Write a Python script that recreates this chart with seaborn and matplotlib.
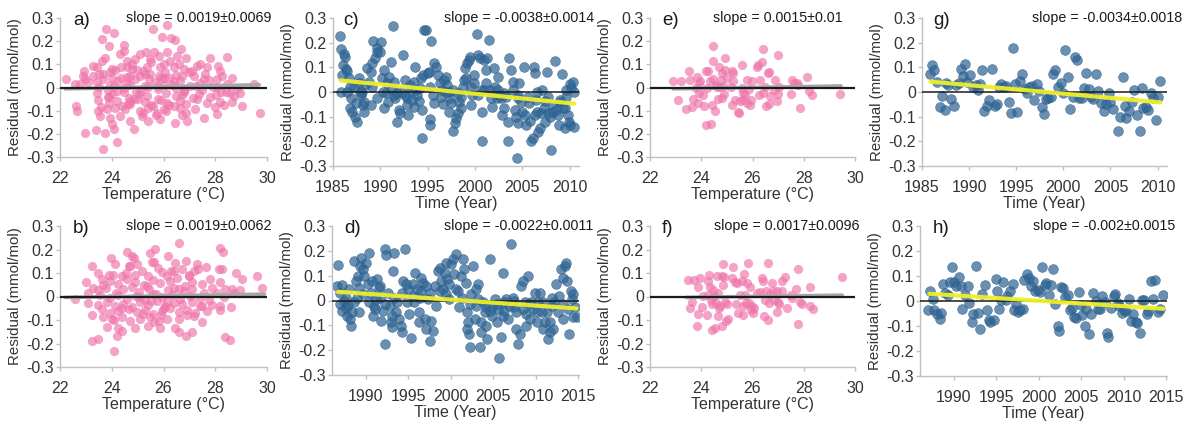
import matplotlib
matplotlib.use("Agg")
import matplotlib.pyplot as plt
import seaborn as sns
import pandas as pd

sns.set_theme(style="white")
plt.rcParams['font.family'] = ['Liberation Sans', 'DejaVu Sans']
plt.rcParams['axes.unicode_minus'] = False

# ---------------- data (temperature, residual) ----------------
a_pts = [(23.78,0.253),(24.10,0.235),(23.61,0.209),(23.91,0.177),(24.48,0.185),(24.49,0.156),(24.30,0.144),
 (25.61,0.253),(26.15,0.271),(25.94,0.216),(26.30,0.214),(26.45,0.205),(26.68,0.166),(26.13,0.152),(25.65,0.152),
 (25.32,0.152),(25.10,0.144),(25.81,0.137),(26.52,0.137),(26.88,0.126),(26.58,0.101),(26.26,0.113),(27.78,0.126),
 (28.45,0.130),(28.10,0.094),(27.42,0.101),(27.29,0.094),(25.46,0.123),(24.90,0.123),(24.58,0.115),(23.74,0.126),
 (23.61,0.115),(23.29,0.094),(23.42,0.087),(22.93,0.072),(22.88,0.051),(22.22,0.036),(22.58,0.014),(23.29,0.051),
 (23.65,0.058),(23.94,0.065),(24.13,0.075),(24.35,0.087),(24.58,0.089),(24.77,0.079),(24.97,0.075),(25.20,0.072),
 (25.38,0.087),(25.87,0.087),(26.00,0.101),(26.39,0.087),(26.80,0.079),(26.97,0.065),(27.68,0.087),(28.17,0.072),
 (28.28,0.051),(28.65,0.043),(28.06,0.036),(27.55,0.036),(27.16,0.051),(26.71,0.051),(26.23,0.043),(25.81,0.051),
 (25.48,0.058),(25.10,0.051),(24.71,0.051),(24.35,0.043),(24.00,0.043),(23.68,0.036),(23.42,0.022),(23.10,0.022),
 (22.77,0.014),(22.97,0.036),
 (23.94,0.010),(24.26,0.030),(24.58,0.018),(24.90,0.035),(25.29,0.008),(25.68,0.025),(26.00,0.040),(26.32,0.012),
 (26.65,0.028),(27.03,0.005),(27.42,0.020),(27.74,0.033),(28.06,0.002),(28.45,0.015),(28.84,-0.005),(29.48,0.017),
 (23.50,0.004),(23.86,-0.012),(24.10,0.006),(24.49,-0.003),(24.72,0.010),(25.14,-0.015),(25.40,0.002),(25.78,-0.008),
 (26.02,0.012),(26.49,-0.004),(26.80,-0.014),(27.27,0.005),(27.50,-0.010),(27.92,0.003),(28.22,-0.018),(28.58,-0.025),
 (23.42,-0.025),(23.85,-0.042),(24.02,-0.030),(24.49,-0.020),(24.67,-0.045),(25.07,-0.028),(25.38,-0.035),(25.79,-0.048),
 (26.10,-0.022),(26.49,-0.038),(26.73,-0.031),(27.14,-0.044),(27.38,-0.026),(27.78,-0.040),(28.02,-0.033),(28.43,-0.021),
 (28.73,-0.037),(28.97,-0.024),
 (23.48,-0.052),(23.90,-0.066),(24.22,-0.058),(24.62,-0.070),(24.86,-0.050),(25.27,-0.063),(25.51,-0.075),(25.91,-0.055),
 (26.15,-0.068),(26.62,-0.060),(26.86,-0.072),(27.68,-0.069),(28.17,-0.064),(28.35,-0.074),(28.65,-0.062),(29.03,-0.079),
 (22.62,-0.079),(22.65,-0.101),(23.48,-0.101),(23.81,-0.094),(24.13,-0.087),(24.52,-0.094),(24.71,-0.072),(25.10,-0.101),
 (25.42,-0.087),(25.74,-0.108),(26.00,-0.094),(26.39,-0.079),(26.65,-0.087),(26.88,-0.108),(27.23,-0.094),(27.55,-0.130),
 (28.06,-0.115),(23.55,-0.123),(23.94,-0.130),(24.32,-0.123),(24.71,-0.144),(25.16,-0.123),(25.42,-0.144),(25.87,-0.137),
 (26.45,-0.152),(26.90,-0.144),(29.74,-0.111),(24.00,-0.159),(22.97,-0.195),(23.39,-0.185),(23.72,-0.195),(24.10,-0.180),
 (24.86,-0.180),(23.68,-0.264),(24.22,-0.235),
 (24.20,-0.015),(24.60,0.045),(25.00,-0.048),(25.30,0.060),(25.60,-0.080),(25.90,0.040),(26.20,-0.075),(26.50,0.055),
 (26.80,-0.020),(27.10,0.070),(24.40,-0.080),(24.80,0.100),(25.50,0.110),(25.70,-0.120),(26.10,-0.100),(26.40,0.030),
 (23.90,-0.040),(24.00,0.080),(25.20,-0.110),(26.70,-0.120),(25.80,0.005),(24.70,-0.060),(23.60,-0.085),(23.50,0.060),
 (27.30,-0.050),(27.60,0.060),(28.00,-0.085),(25.45,0.035),(24.95,-0.020),(26.05,0.065)]

b_pts = [(26.58,0.227),(28.17,0.206),(28.30,0.191),(25.68,0.204),(25.46,0.187),(24.77,0.173),(24.58,0.190),(23.96,0.162),
 (24.13,0.138),(24.86,0.163),(24.97,0.138),(25.55,0.148),(25.64,0.145),(26.19,0.173),(26.45,0.142),(26.88,0.152),
 (27.29,0.138),(27.64,0.126),(27.35,0.116),(28.13,0.118),(28.28,0.118),(28.81,0.099),(29.03,0.074),(29.61,0.088),
 (29.81,0.038),(23.23,0.130),(23.45,0.099),(23.64,0.074),(24.06,0.091),(24.39,0.088),(24.65,0.130),(25.16,0.109),
 (25.42,0.088),(25.94,0.105),(26.15,0.088),(26.39,0.109),(26.71,0.116),(26.97,0.088),(27.16,0.109),(27.81,0.074),
 (28.19,0.060),(28.39,0.031),(28.65,0.031),(28.97,0.028),
 (23.01,0.062),(23.29,0.038),(23.68,0.050),(23.94,0.068),(24.26,0.055),(24.58,0.075),(24.90,0.060),(25.23,0.048),
 (25.61,0.072),(25.87,0.057),(26.26,0.066),(26.52,0.080),(26.84,0.046),(27.10,0.063),(27.48,0.055),(27.87,0.038),
 (28.06,0.017),
 (23.10,0.017),(23.45,0.028),(23.78,0.035),(24.16,0.015),(24.42,0.030),(24.80,0.040),(25.06,0.020),(25.45,0.033),
 (25.70,0.012),(26.16,0.027),(26.42,0.038),(26.80,0.022),(27.12,0.030),(27.58,0.014),(28.71,0.017),
 (22.58,-0.009),(23.55,0.005),(23.94,-0.006),(24.26,0.008),(24.58,-0.012),(24.94,0.003),(25.29,-0.015),(25.61,0.010),
 (25.94,-0.004),(26.32,0.006),(26.65,-0.011),(27.03,0.002),(27.42,-0.007),(27.74,-0.013),(28.32,-0.004),
 (23.10,-0.026),(23.48,-0.038),(23.81,-0.022),(24.13,-0.040),(24.45,-0.030),(24.77,-0.045),(25.10,-0.025),(25.42,-0.036),
 (25.74,-0.020),(26.06,-0.042),(26.39,-0.029),(26.71,-0.034),(27.10,-0.024),(27.48,-0.039),(27.87,-0.037),(28.19,-0.040),
 (28.61,-0.043),
 (23.23,-0.079),(23.61,-0.055),(23.94,-0.070),(24.26,-0.062),(24.65,-0.052),(24.97,-0.068),(25.29,-0.058),(25.61,-0.074),
 (25.94,-0.060),(26.26,-0.050),(26.58,-0.066),(26.90,-0.057),(27.23,-0.071),(27.68,-0.061),(28.19,-0.057),
 (23.68,-0.089),(24.00,-0.096),(24.39,-0.089),(24.71,-0.104),(25.10,-0.096),(25.48,-0.089),(25.81,-0.104),(26.13,-0.096),
 (26.58,-0.094),(27.16,-0.082),(27.48,-0.108),(23.81,-0.128),(24.26,-0.136),(24.39,-0.146),(24.90,-0.136),(25.42,-0.125),
 (25.87,-0.136),(26.45,-0.136),(27.10,-0.153),(26.88,-0.170),(26.58,-0.153),(24.19,-0.167),(23.45,-0.182),(23.25,-0.189),
 (28.36,-0.174),(28.58,-0.184),(24.09,-0.231),
 (24.40,-0.050),(24.90,0.090),(25.50,-0.020),(25.80,0.120),(26.00,-0.050),(26.30,0.110),(24.70,0.130),(25.20,-0.075),
 (26.60,0.030),(25.35,0.045),(24.10,-0.100),(25.65,-0.110),(26.90,-0.080),(27.00,0.090),(27.40,-0.040),(24.55,0.100),
 (25.05,0.000),(26.15,-0.025),(23.90,0.090),(25.90,-0.080)]

e_pts = [(22.88,0.028),(23.20,0.026),(23.11,-0.055),(23.40,-0.092),(23.52,0.073),(23.56,0.033),(23.65,-0.084),(23.69,-0.050),
 (23.79,0.000),(23.84,0.044),(23.90,-0.024),(23.92,0.021),(23.95,0.026),(23.89,-0.067),(24.08,-0.034),(24.11,-0.078),
 (24.17,0.073),(24.21,-0.003),(24.28,0.073),(24.17,-0.161),(24.38,-0.159),(24.34,0.026),(24.41,-0.074),(24.44,0.179),
 (24.44,0.115),(24.47,0.037),(24.54,-0.102),(24.58,0.011),(24.63,0.001),(24.67,-0.048),(24.70,0.090),(24.73,0.004),
 (24.77,0.033),(24.80,-0.046),(24.82,0.061),(24.86,0.007),(24.89,-0.028),(24.91,0.129),(24.93,0.075),(24.99,0.040),
 (25.15,0.001),(25.19,-0.074),(25.20,0.071),(25.25,0.061),(25.25,0.026),(25.32,-0.053),(25.45,-0.105),(25.48,-0.112),
 (25.53,-0.060),(25.58,0.097),(25.58,-0.003),(25.62,-0.053),(25.64,-0.024),(25.71,-0.031),(25.77,-0.067),(25.80,0.033),
 (25.88,-0.007),(25.90,-0.074),(25.93,-0.053),(25.97,0.030),(26.16,0.090),(26.23,0.097),(26.27,-0.031),(26.30,0.033),
 (26.36,0.108),(26.40,0.168),(26.42,-0.024),(26.49,0.001),(26.53,-0.078),(26.59,0.064),(26.64,-0.070),(26.66,0.068),
 (26.68,-0.038),(26.84,-0.010),(26.88,0.033),(26.94,-0.060),(26.98,0.142),(27.01,-0.027),(27.03,0.001),(27.50,-0.027),
 (27.53,0.033),(27.62,0.021),(27.72,0.018),(27.79,0.011),(27.85,-0.088),(28.14,0.047),(28.20,-0.014),(28.31,-0.034),
 (29.41,-0.027)]

f_pts = [(23.47,0.071),(23.72,0.071),(23.63,-0.025),(23.56,-0.047),(23.86,-0.075),(23.82,-0.127),(23.88,0.042),(23.95,0.080),
 (24.08,0.004),(24.04,-0.045),(24.21,-0.078),(24.25,0.007),(24.28,0.064),(24.32,0.092),(24.34,0.042),(24.37,-0.014),
 (24.41,-0.031),(24.43,-0.141),(24.47,0.028),(24.51,0.003),(24.54,-0.134),(24.58,-0.028),(24.60,0.088),(24.64,-0.085),
 (24.67,0.014),(24.70,-0.049),(24.75,-0.042),(24.80,0.088),(24.82,-0.127),(24.86,0.138),(24.86,0.049),(24.89,0.082),
 (24.93,-0.025),(24.96,-0.106),(25.02,-0.031),(25.06,-0.096),(25.19,0.078),(25.25,0.127),(25.32,0.061),(25.36,-0.031),
 (25.38,0.056),(25.42,-0.071),(25.51,0.007),(25.58,0.064),(25.62,-0.078),(25.64,-0.042),(25.67,0.095),(25.71,0.007),
 (25.75,-0.028),(25.80,0.056),(25.84,0.141),(25.88,-0.028),(25.90,0.040),(25.94,-0.056),(25.97,-0.040),(26.03,-0.071),
 (26.05,-0.049),(26.16,0.014),(26.29,0.021),(26.36,0.080),(26.40,0.064),(26.45,-0.082),(26.49,-0.017),(26.53,0.025),
 (26.59,-0.099),(26.62,0.141),(26.66,-0.028),(26.68,0.010),(26.75,0.059),(26.79,0.025),(26.84,-0.017),(26.94,0.025),
 (26.97,-0.064),(27.01,-0.025),(27.04,-0.031),(27.14,0.025),(27.17,0.064),(27.27,0.085),(27.36,-0.049),(27.49,0.007),
 (27.55,-0.007),(27.68,0.031),(27.79,0.116),(27.79,-0.117),(27.85,-0.025),(27.94,-0.031),(28.24,0.042),(28.24,-0.040),
 (28.37,-0.052),(29.48,0.082)]

# ---------------- data (year, residual) ----------------
c_pts = [(1985.7,0.228),(1985.8,0.174),(1986.2,0.154),(1986.3,0.143),(1986.1,0.109),(1986.4,0.093),(1986.5,0.085),
 (1986.0,0.069),(1985.8,0.001),(1986.7,0.055),(1986.8,0.022),(1986.9,-0.026),(1986.8,-0.066),(1987.0,-0.080),
 (1987.3,-0.100),(1987.5,-0.123),(1987.4,-0.046),(1987.7,0.055),(1987.8,0.035),(1988.0,-0.012),(1988.2,-0.053),
 (1988.3,-0.080),(1988.4,0.028),(1988.6,0.096),(1988.8,0.042),(1989.0,0.082),(1989.1,0.116),(1989.2,0.208),
 (1989.4,0.136),(1989.6,0.177),(1989.7,0.164),(1990.0,0.164),(1990.1,0.201),(1990.2,0.055),(1990.4,0.089),
 (1990.6,-0.005),(1990.7,0.035),(1990.8,-0.039),(1990.9,0.062),(1991.1,0.123),(1991.2,0.012),(1991.3,0.269),
 (1991.4,0.042),(1991.6,-0.026),(1991.8,-0.120),(1992.0,-0.073),(1992.1,-0.086),(1992.3,0.001),(1992.4,0.150),
 (1992.6,0.049),(1992.8,-0.026),(1992.9,-0.093),(1993.1,0.028),(1993.3,-0.032),(1993.4,0.008),(1993.6,0.042),
 (1993.7,0.103),(1993.9,-0.012),(1994.1,-0.036),(1994.3,0.055),(1994.4,-0.188),(1994.5,0.069),(1994.6,0.251),
 (1994.8,0.251),(1995.0,0.076),(1995.1,0.082),(1995.3,-0.109),(1995.3,-0.134),(1995.4,0.207),(1995.6,-0.012),
 (1995.7,0.116),(1995.9,0.103),(1996.1,0.069),(1996.3,0.035),(1996.5,0.008),(1996.6,-0.050),(1996.7,0.049),
 (1996.9,0.062),(1997.1,0.028),(1997.3,0.001),(1997.4,-0.023),(1997.5,-0.046),(1997.7,-0.158),(1997.9,-0.127),
 (1998.0,-0.107),(1998.2,-0.086),(1998.3,-0.042),(1998.5,-0.019),(1998.7,0.022),(1998.8,0.049),(1998.9,0.096),
 (1999.1,0.055),(1999.2,0.116),(1999.4,0.130),(1999.5,0.143),(1999.6,-0.053),(1999.7,-0.012),(1999.9,0.069),
 (2000.2,0.234),(2000.3,0.150),(2000.5,0.136),(2000.6,0.008),(2000.7,-0.199),(2000.8,-0.080),(2001.0,0.130),
 (2001.2,0.089),(2001.3,0.139),(2001.5,0.211),(2001.6,0.008),(2001.8,-0.059),(2002.0,0.096),(2002.1,0.022),
 (2002.3,-0.026),(2002.4,0.062),(2002.6,-0.012),(2002.8,-0.026),(2002.9,-0.093),(2003.1,-0.063),(2003.3,-0.019),
 (2003.5,-0.199),(2003.6,0.136),(2003.8,0.089),(2004.0,0.008),(2004.2,-0.073),(2004.3,-0.100),(2004.4,-0.266),
 (2004.6,-0.026),(2004.7,0.035),(2004.9,-0.039),(2005.0,-0.080),(2005.2,0.103),(2005.3,-0.093),(2005.4,-0.134),
 (2005.7,-0.046),(2005.8,-0.118),(2005.9,-0.199),(2006.1,-0.188),(2006.2,0.103),(2006.3,0.076),(2006.5,-0.032),
 (2006.6,-0.080),(2006.7,-0.161),(2006.9,-0.147),(2007.0,-0.086),(2007.1,0.008),(2007.3,-0.066),(2007.4,-0.036),
 (2007.6,0.082),(2007.7,-0.086),(2007.9,-0.100),(2008.0,-0.235),(2008.2,-0.053),(2008.3,-0.080),(2008.5,0.126),
 (2008.6,-0.073),(2008.8,-0.093),(2008.9,-0.134),(2009.0,-0.039),(2009.2,0.072),(2009.3,-0.066),(2009.5,-0.145),
 (2009.6,-0.019),(2009.8,-0.093),(2009.9,-0.120),(2010.0,0.031),(2010.1,-0.134),(2010.2,0.018),(2010.4,0.042),
 (2010.5,-0.141),(2010.5,0.001),
 (1987.2,0.022),(1988.1,0.001),(1989.1,0.022),(1989.7,-0.026),(1990.3,0.001),(1991.4,-0.012),(1991.8,-0.005),
 (1992.6,-0.012),(1993.8,0.008),(1994.2,0.015),(1995.3,0.022),(1995.7,-0.046),(1996.4,-0.019),(1996.9,0.001),
 (1997.7,0.008),(1998.2,-0.005),(1999.6,0.022),(2000.3,-0.012),(2001.0,0.008),(2001.7,-0.026),(2002.4,0.008),
 (2003.1,-0.005),(2004.5,-0.012),(2005.6,-0.019),(2006.6,0.001),(2007.7,-0.019),(2009.0,-0.032),(2009.6,0.008),
 (1988.3,-0.039),(1990.4,-0.066),(1989.0,-0.053),(1987.9,0.001),(1986.5,0.001),(1992.8,-0.053),(1993.6,-0.059),
 (1994.4,-0.073),(1997.3,-0.080),(1998.5,-0.066),(2003.5,-0.120),(2004.6,-0.127),(2006.4,-0.093),(2009.5,-0.066),
 (2007.4,-0.120),(2004.0,0.042),(2001.2,0.035),(1999.9,0.035)]

d_pts = [(1986.7,0.142),(1986.6,0.059),(1987.2,0.061),(1986.9,0.032),(1986.9,-0.015),(1987.2,-0.041),(1987.4,-0.001),
 (1987.6,-0.032),(1987.8,-0.061),(1987.9,-0.019),(1988.1,-0.075),(1988.2,-0.102),(1988.4,-0.048),(1988.6,0.159),
 (1988.8,0.079),(1989.0,0.012),(1989.1,0.099),(1989.3,0.139),(1989.4,0.172),(1989.6,0.126),(1989.8,0.099),
 (1990.0,0.152),(1990.2,0.066),(1990.4,0.190),(1990.6,0.032),(1990.7,0.079),(1990.9,-0.021),(1991.1,-0.035),
 (1991.3,0.086),(1991.5,0.052),(1991.6,0.012),(1991.8,-0.082),(1992.0,-0.041),(1992.2,-0.175),(1992.3,0.206),
 (1992.4,0.182),(1992.6,0.032),(1992.8,-0.021),(1993.0,-0.088),(1993.1,-0.108),(1993.2,0.119),(1993.3,0.193),
 (1993.5,-0.048),(1993.7,-0.008),(1993.9,-0.075),(1994.1,-0.102),(1994.3,-0.128),(1994.4,0.079),(1994.6,0.206),
 (1994.8,-0.008),(1995.0,0.045),(1995.1,-0.055),(1995.3,-0.152),(1995.5,0.066),(1995.7,-0.008),(1995.8,0.112),
 (1996.0,0.045),(1996.2,-0.048),(1996.4,0.012),(1996.5,0.092),(1996.7,0.072),(1996.9,-0.075),(1997.1,-0.115),
 (1997.3,0.005),(1997.5,-0.162),(1997.7,-0.082),(1997.9,-0.122),(1998.1,0.059),(1998.3,-0.021),(1998.5,0.119),
 (1998.7,0.132),(1998.9,0.079),(1999.1,0.045),(1999.3,0.112),(1999.4,0.152),(1999.6,0.086),(1999.8,0.066),
 (2000.0,0.146),(2000.2,0.166),(2000.4,0.106),(2000.6,0.186),(2000.8,0.039),(2001.0,-0.028),(2001.2,0.099),
 (2001.4,0.166),(2001.6,0.126),(2001.8,0.072),(2001.9,-0.048),(2002.0,-0.088),(2002.1,-0.135),(2002.3,-0.189),
 (2002.4,0.025),(2002.6,0.139),(2002.8,-0.075),(2003.0,-0.021),(2003.2,0.066),(2003.4,-0.189),(2003.6,-0.088),
 (2003.8,-0.008),(2004.0,-0.048),(2004.2,-0.102),(2004.3,-0.155),(2004.6,0.166),(2004.8,-0.061),(2004.9,-0.028),
 (2005.2,0.005),(2005.4,-0.088),(2005.6,-0.035),(2005.7,-0.233),(2005.9,-0.148),(2006.1,0.112),(2006.3,-0.041),
 (2006.5,0.005),(2006.7,-0.075),(2006.9,-0.021),(2007.1,0.226),(2007.3,0.012),(2007.5,-0.028),(2007.7,-0.115),
 (2007.9,-0.175),(2008.1,-0.135),(2008.3,0.059),(2008.5,0.079),(2008.7,-0.008),(2008.9,-0.055),(2009.1,0.099),
 (2009.3,-0.075),(2009.5,-0.008),(2009.7,-0.035),(2009.9,0.032),(2010.1,-0.088),(2010.3,-0.008),(2010.5,0.032),
 (2010.7,-0.048),(2010.9,-0.115),(2011.1,-0.088),(2011.3,-0.048),(2011.5,-0.155),(2011.7,-0.128),(2011.9,-0.021),
 (2012.0,-0.115),(2012.2,-0.008),(2012.4,0.066),(2012.6,-0.048),(2012.8,0.019),(2013.0,0.126),(2013.2,0.092),
 (2013.4,0.139),(2013.6,0.152),(2013.7,0.079),(2013.8,-0.035),(2013.9,-0.135),(2014.1,0.039),(2014.3,0.005),
 (2014.4,-0.068),(2014.6,-0.028),(2014.9,-0.068),
 (1987.6,0.012),(1988.6,-0.008),(1989.6,0.025),(1990.4,-0.008),(1991.2,0.005),(1992.2,-0.015),(1993.3,0.012),
 (1994.3,0.032),(1995.5,0.019),(1996.5,0.039),(1997.5,0.032),(1998.7,0.039),(1999.4,0.025),(2000.6,0.045),
 (2001.3,0.012),(2002.2,-0.015),(2003.2,0.005),(2004.2,-0.028),(2005.4,-0.015),(2006.3,-0.008),(2007.5,-0.001),
 (2008.5,-0.035),(2009.3,-0.015),(2010.9,-0.008),(2011.9,0.012),(2013.2,-0.015),(2014.4,0.025),(1988.0,0.045),
 (1989.2,0.052),(1991.6,0.059),(1994.7,0.066),(1997.1,0.059),(1999.8,0.005),(2003.0,0.045),(2004.6,-0.041),
 (2006.1,-0.061),(2007.7,-0.048),(2010.1,-0.048),(2013.2,-0.075),(1989.2,-0.048),(1990.8,-0.061),(1993.1,-0.061),
 (1996.3,-0.088),(2001.9,-0.115),(2003.6,-0.128),(2008.9,-0.102),(2011.7,-0.088)]

g_pts = [(1985.8,0.072),(1986.1,0.109),(1986.3,0.089),(1986.6,0.042),(1986.9,-0.062),(1987.1,-0.016),(1987.4,-0.072),
 (1987.6,0.038),(1987.8,0.028),(1988.1,-0.030),(1988.4,-0.056),(1988.6,0.028),(1988.9,0.038),(1989.1,0.095),
 (1989.3,0.064),(1989.6,0.115),(1989.8,0.042),(1990.1,0.068),(1990.4,0.019),(1990.7,0.028),(1990.9,0.008),
 (1991.2,0.032),(1991.4,0.091),(1991.6,-0.075),(1991.9,-0.056),(1992.1,-0.032),(1992.4,0.095),(1992.7,-0.056),
 (1993.0,-0.048),(1993.2,0.019),(1993.4,0.032),(1993.7,0.019),(1993.9,0.024),(1994.2,-0.039),(1994.4,-0.086),
 (1994.7,0.180),(1994.9,0.032),(1995.1,-0.083),(1995.4,0.046),(1995.6,0.072),(1995.9,0.011),(1996.1,-0.003),
 (1996.4,0.019),(1996.7,0.024),(1996.9,-0.032),(1997.2,0.032),(1997.4,0.005),(1997.7,-0.062),(1997.9,-0.089),
 (1998.2,-0.030),(1998.4,-0.026),(1998.7,-0.021),(1998.9,0.072),(1999.1,0.089),(1999.4,0.019),(1999.7,0.035),
 (2000.0,-0.003),(2000.2,0.169),(2000.5,0.062),(2000.7,-0.070),(2001.0,-0.021),(2001.2,0.142),(2001.4,0.129),
 (2001.7,-0.026),(2002.0,-0.026),(2002.2,0.015),(2002.4,0.078),(2002.7,0.011),(2002.9,-0.021),(2003.2,-0.030),
 (2003.5,0.072),(2003.7,0.005),(2004.0,-0.046),(2004.3,-0.079),(2004.5,-0.048),(2004.8,-0.003),(2005.0,-0.039),
 (2005.3,-0.070),(2005.8,-0.160),(2006.0,-0.102),(2006.3,0.059),(2006.5,-0.056),(2006.7,-0.106),(2007.0,-0.079),
 (2007.3,-0.039),(2007.5,0.008),(2007.8,-0.093),(2008.1,-0.160),(2008.3,0.015),(2008.5,-0.066),(2008.8,-0.059),
 (2009.0,-0.072),(2009.3,-0.003),(2009.5,-0.026),(2009.8,-0.113),(2010.0,-0.021),(2010.3,0.046)]

h_pts = [(1987.0,-0.037),(1987.2,0.040),(1987.5,0.009),(1987.7,-0.037),(1988.0,-0.051),(1988.3,-0.071),(1988.5,-0.048),
 (1988.7,0.067),(1989.0,0.033),(1989.3,0.025),(1989.5,0.076),(1989.8,0.136),(1990.0,0.076),(1990.3,0.059),
 (1990.6,0.096),(1990.8,0.059),(1991.0,-0.031),(1991.3,0.023),(1991.6,0.059),(1991.8,-0.008),(1992.1,-0.084),
 (1992.3,-0.053),(1992.6,0.139),(1992.8,-0.047),(1993.1,-0.111),(1993.3,0.029),(1993.6,0.065),(1993.9,-0.035),
 (1994.1,-0.077),(1994.3,-0.084),(1994.7,-0.077),(1994.9,0.087),(1995.1,0.040),(1995.3,-0.033),(1995.6,0.003),
 (1995.8,0.076),(1996.1,0.005),(1996.3,0.020),(1996.6,0.040),(1996.9,0.069),(1997.1,-0.037),(1997.3,-0.011),
 (1997.5,-0.044),(1997.8,-0.037),(1998.1,-0.031),(1998.3,0.083),(1998.6,0.109),(1998.8,0.092),(1999.1,0.059),
 (1999.3,0.079),(1999.6,0.040),(1999.9,0.045),(2000.1,0.036),(2000.4,0.136),(2000.7,0.065),(2000.9,0.073),
 (2001.2,0.023),(2001.4,0.065),(2001.7,0.127),(2001.9,-0.013),(2002.2,-0.101),(2002.4,-0.121),(2002.6,0.056),
 (2002.9,0.053),(2003.1,0.016),(2003.4,0.023),(2003.7,-0.037),(2003.9,-0.028),(2004.1,-0.064),(2004.4,-0.068),
 (2004.7,0.036),(2005.0,-0.017),(2005.1,-0.055),(2005.4,-0.101),(2005.6,-0.031),(2005.9,-0.131),(2006.2,-0.053),
 (2006.4,0.032),(2006.7,0.000),(2007.0,-0.033),(2007.2,-0.031),(2007.5,0.020),(2007.8,-0.004),(2008.0,-0.128),
 (2008.2,-0.144),(2008.5,-0.027),(2008.8,0.019),(2009.0,0.029),(2009.3,-0.008),(2009.5,-0.021),(2009.8,-0.048),
 (2010.0,-0.037),(2010.3,-0.041),(2010.6,0.009),(2010.8,-0.080),(2011.1,-0.051),(2011.4,-0.084),(2011.6,-0.088),
 (2011.9,-0.128),(2012.1,0.003),(2012.4,0.005),(2012.7,-0.051),(2012.9,-0.041),(2013.2,0.079),(2013.5,0.009),
 (2013.7,0.085),(2014.0,-0.044),(2014.3,-0.031),(2014.6,0.023)]

# fitted lines (end points)
a_fit_temp, a_fit_resid = [22.2, 29.7], [-0.006, 0.012]
b_fit_temp, b_fit_resid = [22.2, 29.9], [-0.004, 0.010]
e_fit_temp, e_fit_resid = [22.9, 29.45], [-0.006, 0.007]
f_fit_temp, f_fit_resid = [23.4, 29.5], [-0.004, 0.006]
c_trend_year, c_trend_resid = [1985.8, 2010.5], [0.047, -0.047]
d_trend_year, d_trend_resid = [1986.7, 2014.8], [0.035, -0.032]
g_trend_year, g_trend_resid = [1985.9, 2010.3], [0.042, -0.042]
h_trend_year, h_trend_resid = [1987.1, 2014.7], [0.029, -0.031]

letters = ['a)', 'b)', 'c)', 'd)', 'e)', 'f)', 'g)', 'h)']
slopes = ['slope = 0.0019\u00b10.0069', 'slope = 0.0019\u00b10.0062',
          'slope = -0.0038\u00b10.0014', 'slope = -0.0022\u00b10.0011',
          'slope = 0.0015\u00b10.01', 'slope = 0.0017\u00b10.0096',
          'slope = -0.0034\u00b10.0018', 'slope = -0.002\u00b10.0015']
yticks = [-0.3, -0.2, -0.1, 0.0, 0.1, 0.2, 0.3]
ytick_labels = ['-0.3', '-0.2', '-0.1', '0', '0.1', '0.2', '0.3']
temp_ticks = [22, 24, 26, 28, 30]
year_ticks_1 = [1985, 1990, 1995, 2000, 2005, 2010]
year_ticks_2 = [1990, 1995, 2000, 2005, 2010, 2015]

PINK = '#ef74ab'
BLUE = '#2f6596'
YELLOW = '#eeee2a'
TXT = '#333333'
AX = '#c0c0c0'

fig = plt.figure(figsize=(11.86, 4.26), dpi=100)
W, H = 1186.0, 426.0

def add_ax(l, r, t, b):
    return fig.add_axes([l / W, 1 - b / H, (r - l) / W, (b - t) / H])

def style(ax, xlim, xticks, xlabel):
    ax.set_xlim(*xlim)
    ax.set_ylim(-0.3, 0.3)
    ax.set_xticks(xticks)
    ax.set_yticks(yticks)
    ax.set_yticklabels(ytick_labels)
    for s in ['top', 'right']:
        ax.spines[s].set_visible(False)
    for s in ['left', 'bottom']:
        ax.spines[s].set_color(AX)
        ax.spines[s].set_linewidth(1.0)
    ax.tick_params(axis='both', which='both', bottom=True, left=True, colors=AX,
                   labelcolor=TXT, labelsize=11.5, length=3, width=1, direction='out')
    ax.tick_params(axis='y', pad=1.5)
    ax.tick_params(axis='x', pad=7)
    ax.set_xlabel(xlabel, fontsize=11.5, color=TXT, labelpad=1)
    ax.set_ylabel('Residual (mmol/mol)', fontsize=10.8, color=TXT, labelpad=3)

def temp_panel(ax, pts, fx, fy, letter, slope, lx, sx):
    df = pd.DataFrame(pts, columns=['temperature', 'residual'])
    sns.scatterplot(data=df, x='temperature', y='residual', ax=ax, color=PINK,
                    s=44, alpha=0.66, linewidth=0, legend=False, zorder=2)
    sns.lineplot(x=fx, y=fy, ax=ax, color='#a8a8a8', linewidth=2.6, zorder=3)
    ax.axhline(0, color='#1a1a1a', linewidth=1.6, zorder=4)
    style(ax, (22, 30), temp_ticks, 'Temperature (\u00b0C)')
    ax.text(lx, 0.985, letter, transform=ax.transAxes, fontsize=13.5, color='#1a1a1a',
            ha='left', va='center')
    ax.text(sx, 1.0, slope, transform=ax.transAxes, fontsize=10.3, color='#1a1a1a',
            ha='right', va='center')

def time_panel(ax, pts, tx, ty, xlim, xticks, letter, slope, lx, sx):
    df = pd.DataFrame(pts, columns=['year', 'residual'])
    sns.scatterplot(data=df, x='year', y='residual', ax=ax, color=BLUE,
                    s=50, alpha=0.72, edgecolor='#28587f', linewidth=0.4,
                    legend=False, zorder=2)
    ax.axhline(0, color='#1a1a1a', linewidth=1.1, zorder=3)
    sns.lineplot(x=tx, y=ty, ax=ax, color=YELLOW, linewidth=3.0, alpha=0.95, zorder=4)
    style(ax, xlim, xticks, 'Time (Year)')
    ax.text(lx, 0.985, letter, transform=ax.transAxes, fontsize=13.5, color='#1a1a1a',
            ha='left', va='center')
    ax.text(sx, 1.0, slope, transform=ax.transAxes, fontsize=10.3, color='#1a1a1a',
            ha='right', va='center')

ax_a = add_ax(60, 267, 18, 157)
ax_c = add_ax(333, 579, 18, 166)
ax_e = add_ax(650, 855, 18, 157)
ax_g = add_ax(922, 1167, 18, 166)
ax_b = add_ax(60, 267, 226, 367)
ax_d = add_ax(332, 579, 226, 375)
ax_f = add_ax(650, 855, 226, 367)
ax_h = add_ax(920, 1167, 226, 376)

temp_panel(ax_a, a_pts, a_fit_temp, a_fit_resid, letters[0], slopes[0], 0.063, 1.02)
temp_panel(ax_b, b_pts, b_fit_temp, b_fit_resid, letters[1], slopes[1], 0.061, 1.02)
temp_panel(ax_e, e_pts, e_fit_temp, e_fit_resid, letters[4], slopes[4], 0.062, 0.94)
temp_panel(ax_f, f_pts, f_fit_temp, f_fit_resid, letters[5], slopes[5], 0.057, 1.02)
time_panel(ax_c, c_pts, c_trend_year, c_trend_resid, (1985, 2011), year_ticks_1, letters[2], slopes[2], 0.04, 1.06)
time_panel(ax_d, d_pts, d_trend_year, d_trend_resid, (1986, 2015.1), year_ticks_2, letters[3], slopes[3], 0.049, 1.06)
time_panel(ax_g, g_pts, g_trend_year, g_trend_resid, (1985, 2011), year_ticks_1, letters[6], slopes[6], 0.045, 1.06)
time_panel(ax_h, h_pts, h_trend_year, h_trend_resid, (1986, 2015.1), year_ticks_2, letters[7], slopes[7], 0.053, 1.032)

fig.savefig('out.png', dpi=100)
